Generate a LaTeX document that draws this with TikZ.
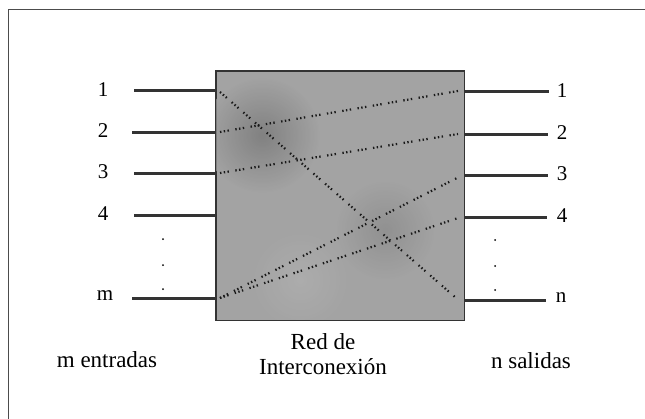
\documentclass[tikz,border=0pt]{standalone}
\usepackage{fontspec}
\setmainfont{Liberation Serif}
\begin{document}
\begin{tikzpicture}[x=1pt,y=-1pt,
  lbl/.style={font=\fontsize{21}{23}\selectfont, inner sep=0pt},
  captxt/.style={font=\fontsize{23}{25}\selectfont, inner sep=0pt, align=center},
  port/.style={line width=3pt, black!80},
  linkline/.style={line width=2.2pt, black!90, dash pattern=on 1.4pt off 2.4pt on 1.4pt off 2.4pt on 1.4pt off 6.5pt},
  dotnode/.style={circle, fill=black, inner sep=0pt, minimum size=2pt}]
\useasboundingbox (0,0) rectangle (645,418);
\draw[black!70, line width=0.8pt] (8,430) -- (8,9) -- (660,9);
% network box
\node[draw=black!80, line width=1pt, fill=black!36, minimum width=248pt, minimum height=249pt, inner sep=0pt] (net) at (340,195.5) {};
\begin{scope}
\clip (net.north west) rectangle (net.south east);
\shade[inner color=black!55, outer color=black!36, opacity=0.7] (262,135) circle (58pt);
\shade[inner color=black!48, outer color=black!36, opacity=0.6] (385,230) circle (50pt);
\shade[inner color=black!30, outer color=black!36, opacity=0.6] (300,280) circle (50pt);
\end{scope}
\draw[black!80, line width=1pt] (net.north west) rectangle (net.south east);
% input coordinates
\coordinate (i1) at (216,90); \coordinate (i2) at (216,132); \coordinate (i3) at (216,173);
\coordinate (i4) at (216,215); \coordinate (im) at (216,298);
\coordinate (a1) at (134,90); \coordinate (a2) at (132,132); \coordinate (a3) at (134,173);
\coordinate (a4) at (134,215); \coordinate (am) at (132,298);
\coordinate (o1) at (465,91); \coordinate (o2) at (465,134); \coordinate (o3) at (465,175);
\coordinate (o4) at (465,217); \coordinate (on) at (465,300);
\coordinate (b1) at (549,91); \coordinate (b2) at (548,134); \coordinate (b3) at (548,175);
\coordinate (b4) at (547,217); \coordinate (bn) at (546,300);
\foreach \k in {1,2,3,4,m} \draw[port] (a\k) -- (i\k);
\foreach \k in {1,2,3,4,n} \draw[port] (o\k) -- (b\k);
% labels
\node[lbl] (l1) at (103,90) {1};
\node[lbl] (l2) at (103,131) {2};
\node[lbl] (l3) at (103,172) {3};
\node[lbl] (l4) at (103,214) {4};
\node[lbl] (lm) at (105,296) {m};
\node[lbl] (r1) at (562,91) {1};
\node[lbl] (r2) at (562,133) {2};
\node[lbl] (r3) at (562,174) {3};
\node[lbl] (r4) at (562,216) {4};
\node[lbl] (rn) at (561,298) {n};
\node[dotnode] (dl1) at (163,239) {}; \node[dotnode] (dl2) at (163,265) {}; \node[dotnode] (dl3) at (163,289) {};
\node[dotnode] (dr1) at (495,240) {}; \node[dotnode] (dr2) at (495,266) {}; \node[dotnode] (dr3) at (495,290) {};
% internal links
\coordinate (p1) at (220,92); \coordinate (q1) at (458,91);
\coordinate (p2) at (220,132); \coordinate (q2) at (458,134);
\coordinate (p3) at (220,173); \coordinate (q3) at (457,178);
\coordinate (pm) at (220,298); \coordinate (q4) at (458,218);
\coordinate (qn) at (455,297);
\draw[linkline] (p1) -- (qn);
\draw[linkline] (p2) -- (q1);
\draw[linkline] (p3) -- (q2);
\draw[linkline] (pm) -- (q3);
\draw[linkline] (pm) -- (q4);
% captions
\node[captxt] (ent) at (107,360) {m entradas};
\node[captxt] (red) at (323,354) {Red de\\[0pt]Interconexión};
\node[captxt] (sal) at (531,361) {n salidas};
\end{tikzpicture}
\end{document}
